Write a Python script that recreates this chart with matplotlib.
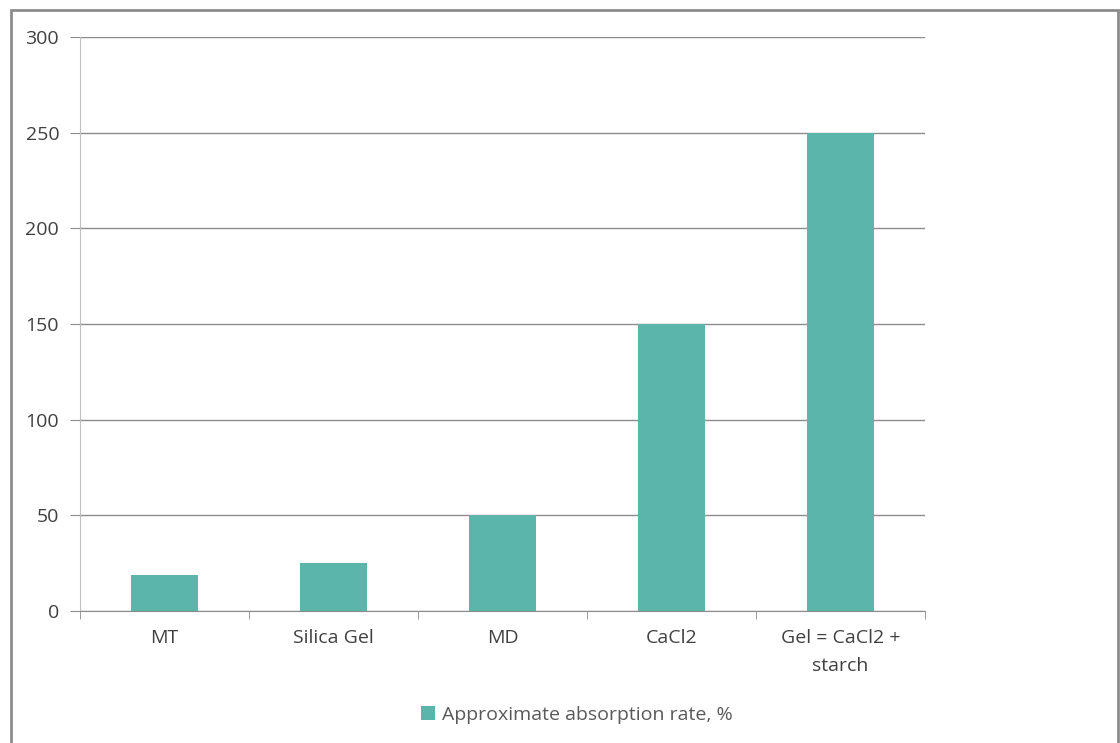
import matplotlib.pyplot as plt
import numpy as np
from matplotlib.patches import Rectangle

categories = ['MT', 'Silica Gel', 'MD', 'CaCl2', 'Gel = CaCl2 +\nstarch']
values = [19, 25, 50, 150, 250]
series_name = 'Approximate absorption rate, %'
yticks = [0, 50, 100, 150, 200, 250, 300]

plt.rcParams['font.family'] = ['Open Sans', 'DejaVu Sans']

fig = plt.figure(figsize=(11.2, 7.43), dpi=100)
# outer chart frame
fig.patches.append(Rectangle((11 / 1120, -0.05), (1118 - 11) / 1120, 1.05 - 10 / 743,
                             transform=fig.transFigure, fill=False,
                             edgecolor='#8c8c8c', linewidth=2))

ax = fig.add_axes([80 / 1120, 1 - 611 / 743, (925 - 80) / 1120, (611 - 37) / 743])
x = np.arange(len(categories))
ax.bar(x, values, width=0.4, color='#5bb5aa', label=series_name, zorder=3)

ax.set_xlim(-0.5, len(categories) - 0.5)
ax.set_ylim(0, 300)
ax.set_yticks(yticks)
ax.grid(axis='y', color='#8c8c8c', linewidth=1)
ax.set_xticks(x)
ax.set_xticklabels(categories, fontsize=14, color='#404040', linespacing=1.7)
ax.set_xticks(np.arange(-0.5, len(categories)), minor=True)
ax.tick_params(axis='x', which='major', length=0, pad=13)
ax.tick_params(axis='x', which='minor', length=6, color='#8c8c8c')
ax.tick_params(axis='y', length=7, color='#8c8c8c', labelsize=14, labelcolor='#404040', pad=8)

for s in ['top', 'right']:
    ax.spines[s].set_visible(False)
ax.spines['left'].set_color('#bfbfbf')
ax.spines['bottom'].set_color('#8c8c8c')
ax.spines['bottom'].set_zorder(4)

fig.legend(loc='center', bbox_to_anchor=(577 / 1120, 1 - 715 / 743), frameon=False,
           fontsize=14, labelcolor='#595959', handlelength=0.7, handleheight=0.7,
           handletextpad=0.4)

fig.savefig('out.png', dpi=100)
